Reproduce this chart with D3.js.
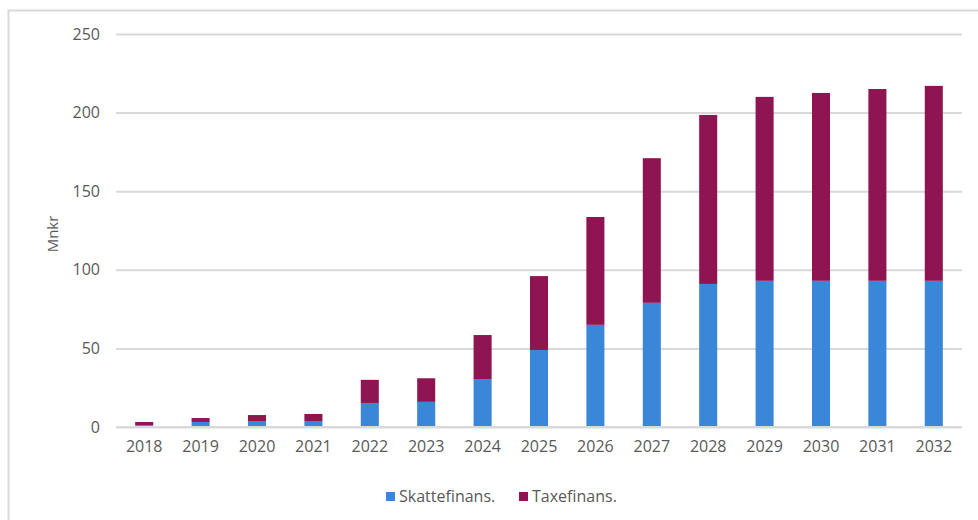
<!DOCTYPE html>
<html>
<head>
<meta charset="utf-8">
<script src="https://cdn.jsdelivr.net/npm/d3@7"></script>
<style>
	body { margin: 0; background: #fff; }
	svg text { font-family: 'Open Sans', 'Noto Sans', sans-serif; fill: #595959; }
</style>
</head>
<body>
<div id="container"></div>
<script>
'use strict';
// values (Mnkr)
const years = ['2018', '2019', '2020', '2021', '2022', '2023', '2024', '2025', '2026', '2027', '2028', '2029', '2030', '2031', '2032'];
const skatte = [1, 3.2, 3.8, 3.8, 15.3, 16, 30.5, 49, 65, 79, 91, 93, 93, 93, 93];
const taxe = [2.2, 2.5, 3.8, 4.5, 14.7, 15, 28, 47, 68.6, 92, 107.5, 117, 119.5, 122, 124];
const yTicks = [0, 50, 100, 150, 200, 250];
const seriesNames = ['Skattefinans.', 'Taxefinans.'];
const colors = ['#3a87d9', '#8e1551'];

let options = {
	width: 978,
	height: 520,
	left: 116,
	right: 962,
	top: 34,
	bottom: 427,
};

let svg = d3.select('#container')
	.append('svg')
	.attr('width', options.width)
	.attr('height', options.height);

// outer frame
svg.append('rect')
	.attr('x', 8.5).attr('y', 10.5)
	.attr('width', 990).attr('height', 540)
	.attr('fill', 'none')
	.attr('stroke', '#d9d9d9')
	.attr('stroke-width', 2);

let x = d3.scaleBand()
	.domain(years)
	.range([options.left, options.right])
	.paddingInner(0.68)
	.paddingOuter(0.34);

let y = d3.scaleLinear()
	.domain([0, 250])
	.range([options.bottom, options.top]);

// gridlines + y labels
let yAxis = svg.append('g')
	.attr('transform', 'translate(' + options.left + ',0)')
	.call(d3.axisLeft(y).tickValues(yTicks).tickSize(-(options.right - options.left)).tickPadding(16));
yAxis.select('.domain').remove();
yAxis.selectAll('line').attr('stroke', '#d9d9d9').attr('stroke-width', 2);
yAxis.selectAll('text').style('font-size', '16px').attr('fill', '#595959');

let table = years.map((yr, i) => ({ year: yr, s: skatte[i], t: taxe[i] }));
let stacked = d3.stack().keys(['s', 't'])(table);

svg.append('g')
	.selectAll('g')
	.data(stacked)
	.join('g')
	.attr('fill', (d, i) => colors[i])
	.selectAll('rect')
	.data((d) => d)
	.join('rect')
	.attr('x', (d) => x(d.data.year))
	.attr('width', x.bandwidth())
	.attr('y', (d) => y(d[1]))
	.attr('height', (d) => y(d[0]) - y(d[1]));

// baseline
svg.append('line')
	.attr('x1', options.left).attr('x2', options.right)
	.attr('y1', y(0)).attr('y2', y(0))
	.attr('stroke', '#d9d9d9').attr('stroke-width', 2);

// x labels
let xAxis = svg.append('g')
	.attr('transform', 'translate(0,' + options.bottom + ')')
	.call(d3.axisBottom(x).tickSize(0).tickPadding(14));
xAxis.select('.domain').remove();
xAxis.selectAll('text').style('font-size', '16px').attr('fill', '#595959');

// y title
svg.append('text')
	.attr('transform', 'translate(58,234) rotate(-90)')
	.attr('text-anchor', 'middle')
	.style('font-size', '15px')
	.text('Mnkr');

// legend
let legendX = [386, 519];
let legend = svg.append('g')
	.selectAll('g')
	.data(seriesNames)
	.join('g')
	.attr('transform', (d, i) => 'translate(' + legendX[i] + ',492)');
legend.append('rect')
	.attr('width', 9).attr('height', 9)
	.attr('fill', (d, i) => colors[i]);
legend.append('text')
	.attr('x', 13).attr('y', 10)
	.style('font-size', '16px')
	.text((d) => d);
</script>
</body>
</html>
